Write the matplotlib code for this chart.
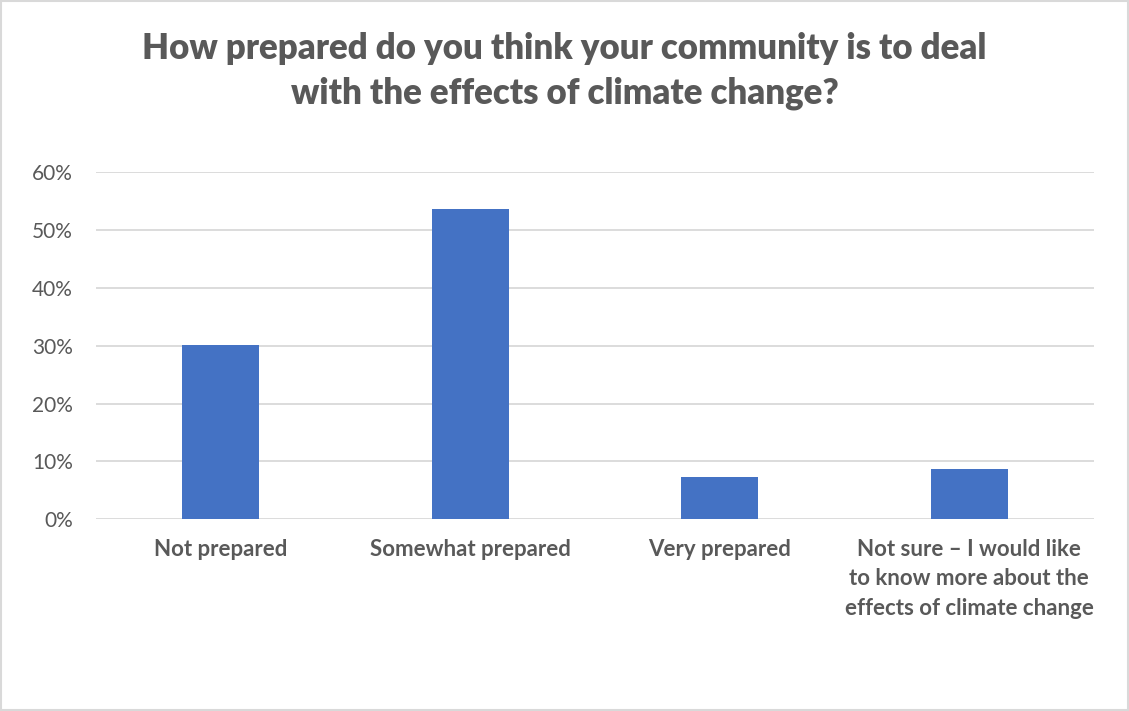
import numpy as np
import matplotlib.pyplot as plt
from matplotlib.ticker import PercentFormatter

categories = ["Not prepared", "Somewhat prepared", "Very prepared",
              "Not sure \u2013 I would like\nto know more about the\neffects of climate change"]
values = [30.1, 53.6, 7.3, 8.7]
yticks = [0, 10, 20, 30, 40, 50, 60]

plt.rcParams['font.family'] = ['Lato', 'DejaVu Sans']
grey = '#595959'

fig = plt.figure(figsize=(11.29, 7.11), dpi=100)
ax = fig.add_axes([96 / 1129, 1 - 519.3 / 711, 998 / 1129, 347.3 / 711])

x = np.arange(len(categories))
ax.bar(x, values, width=0.31, color='#4472C4', zorder=3)

ax.set_xlim(-0.5, len(categories) - 0.5)
ax.set_ylim(0, 60)
ax.set_yticks(yticks)
ax.yaxis.set_major_formatter(PercentFormatter(decimals=0))
ax.grid(axis='y', color='#d9d9d9', linewidth=1.3, zorder=0)
for s in ax.spines.values():
    s.set_visible(False)
ax.tick_params(axis='y', length=0, labelsize=15, labelcolor=grey, pad=16.5)
ax.tick_params(axis='x', length=0, pad=14)
ax.set_xticks(x)
ax.set_xticklabels(categories, fontsize=16, fontweight='bold', color=grey,
                   va='top', linespacing=1.5)

fig.text(0.5, 1 - 71 / 711,
         "How prepared do you think your community is to deal\nwith the effects of climate change?",
         ha='center', va='center', fontsize=25, fontweight='heavy', color=grey,
         linespacing=1.4)

border = plt.Rectangle((0.001, 0.001), 0.998, 0.998, transform=fig.transFigure,
                       fill=False, edgecolor='#d9d9d9', linewidth=1.5)
fig.patches.append(border)

fig.savefig('out.png', dpi=100)
